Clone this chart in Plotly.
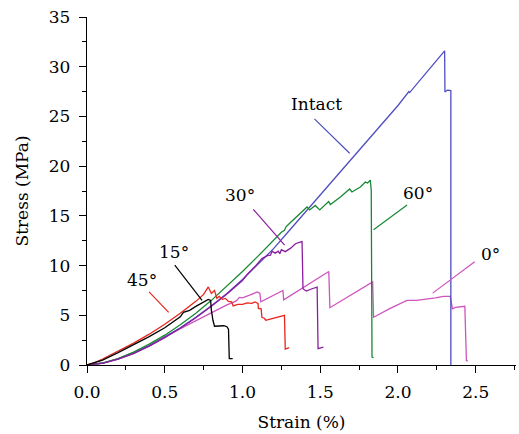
import plotly.graph_objects as go

# Stress-strain curves (strain in %, stress in MPa)
intact_strain = [0, 0.1, 0.2, 0.3, 0.4, 0.5, 0.6, 0.7, 0.8, 0.9, 1.0, 1.1, 1.2, 1.3, 1.4, 1.6,
                 1.8, 2.0, 2.07, 2.075, 2.3, 2.302, 2.318, 2.34, 2.34]
intact_stress = [0, 0.18, 0.6, 1.2, 1.95, 2.8, 3.75, 4.8, 5.95, 7.2, 8.6, 10.1, 11.7, 13.5, 15.3, 18.9,
                 22.5, 26.1, 27.5, 27.4, 31.6, 27.45, 27.65, 27.6, 0]

s60_strain = [0, 0.1, 0.2, 0.3, 0.4, 0.5, 0.6, 0.7, 0.8, 0.9, 1.0, 1.1, 1.2, 1.25, 1.27, 1.28,
              1.3, 1.35, 1.39, 1.415, 1.432, 1.468, 1.497, 1.554, 1.565, 1.63, 1.689, 1.704,
              1.758, 1.79, 1.805, 1.822, 1.828, 1.833, 1.843]
s60_stress = [0, 0.2, 0.65, 1.3, 2.1, 3.0, 4.05, 5.2, 6.5, 7.9, 9.4, 10.95, 12.6, 13.35, 13.55, 13.9,
              14.2, 14.9, 15.5, 15.9, 15.6, 16.05, 15.6, 16.45, 16.15, 16.9, 17.7, 17.4,
              17.9, 18.4, 18.3, 18.6, 17.6, 0.8, 0.75]

s30_strain = [0, 0.1, 0.2, 0.3, 0.4, 0.5, 0.6, 0.7, 0.8, 0.9, 1.0, 1.03, 1.08, 1.125, 1.16, 1.18,
              1.19, 1.21, 1.23, 1.24, 1.25, 1.275, 1.31, 1.34, 1.38, 1.383, 1.389, 1.41, 1.447,
              1.48, 1.486, 1.52]
s30_stress = [0, 0.17, 0.58, 1.15, 1.9, 2.75, 3.7, 4.75, 5.9, 7.15, 8.5, 9.1, 9.9, 10.7, 11.0, 11.05,
              11.45, 11.25, 11.45, 11.2, 11.6, 11.4, 11.75, 12.2, 12.4, 12.47, 7.67, 7.43, 7.67,
              7.84, 1.64, 1.8]

s45_strain = [0, 0.05, 0.1, 0.2, 0.3, 0.4, 0.5, 0.6, 0.65, 0.7, 0.75, 0.78, 0.8, 0.82, 0.835,
              0.85, 0.87, 0.89, 0.91, 0.93, 0.94, 0.97, 1.0, 1.03, 1.06, 1.08, 1.1, 1.102, 1.12,
              1.125, 1.14, 1.15, 1.16, 1.27, 1.275, 1.3]
s45_stress = [0, 0.25, 0.6, 1.4, 2.2, 3.1, 4.1, 5.2, 5.8, 6.4, 7.1, 7.85, 7.2, 7.5, 6.7,
              6.9, 6.6, 6.7, 6.4, 6.35, 5.95, 6.1, 6.1, 6.25, 6.2, 6.35, 6.2, 5.7, 5.65,
              4.8, 4.7, 4.5, 4.55, 5.0, 1.6, 1.75]

s15_strain = [0, 0.1, 0.2, 0.3, 0.4, 0.5, 0.6, 0.62, 0.64, 0.66, 0.7, 0.75, 0.78, 0.795, 0.8,
              0.81, 0.82, 0.88, 0.9, 0.91, 0.915, 0.937]
s15_stress = [0, 0.5, 1.25, 2.05, 2.85, 3.75, 4.85, 5.3, 5.4, 5.5, 5.9, 6.3, 6.6, 6.5, 5.5,
              4.5, 3.9, 3.95, 3.85, 3.6, 0.65, 0.65]

s0_strain = [0, 0.1, 0.2, 0.3, 0.4, 0.5, 0.6, 0.7, 0.8, 0.86, 0.9, 0.94, 0.96, 0.98, 1.0, 1.05,
             1.08, 1.095, 1.112, 1.118, 1.26, 1.265, 1.555, 1.562, 1.837, 1.843, 1.95, 2.058,
             2.12, 2.186, 2.24, 2.293, 2.336, 2.35, 2.37, 2.43, 2.44, 2.45]
s0_stress = [0, 0.2, 0.65, 1.25, 1.9, 2.85, 3.65, 4.45, 5.25, 5.8, 6.05, 6.3, 6.45, 6.8, 6.75, 7.05,
             7.3, 7.35, 7.2, 6.35, 7.5, 6.55, 9.4, 5.76, 8.35, 4.8, 5.7, 6.5,
             6.5, 6.6, 6.75, 6.9, 6.9, 5.66, 5.8, 5.9, 0.45, 0.4]

series = [
    ("0°", s0_strain, s0_stress, "rgb(206,84,190)"),
    ("Intact", intact_strain, intact_stress, "rgb(78,78,192)"),
    ("60°", s60_strain, s60_stress, "rgb(24,136,52)"),
    ("30°", s30_strain, s30_stress, "rgb(140,30,160)"),
    ("45°", s45_strain, s45_stress, "rgb(232,38,28)"),
    ("15°", s15_strain, s15_stress, "rgb(0,0,0)"),
]

# Callout labels: text position, leader line start and end (data units)
label_names = ["Intact", "60°", "30°", "0°", "15°", "45°"]
label_text_xy = [(1.475, 26.3), (2.13, 17.3), (0.985, 17.1), (2.595, 11.2), (0.557, 11.4), (0.354, 8.5)]
leader_from = [(1.453, 24.9), (2.068, 16.2), (1.061, 15.8), (2.503, 10.5), (0.557, 10.2), (0.39, 7.5)]
leader_to = [(1.689, 21.3), (1.843, 13.6), (1.271, 12.05), (2.223, 7.23), (0.74, 6.5), (0.525, 5.3)]

FONT = "DejaVu Serif"
FS = 17
colors = {name: c for name, _, _, c in series}

fig = go.Figure()
for name, xs, ys, c in series:
    fig.add_trace(go.Scatter(x=xs, y=ys, mode="lines", name=name,
                             line=dict(color=c, width=1.3), showlegend=False))

for name, (tx, ty), (x0, y0), (x1, y1) in zip(label_names, label_text_xy, leader_from, leader_to):
    fig.add_annotation(x=x1, y=y1, ax=x0, ay=y0, xref="x", yref="y", axref="x", ayref="y",
                       text="", showarrow=True, arrowhead=0, arrowwidth=1.2,
                       arrowcolor=colors[name], standoff=0, startstandoff=0)
    fig.add_annotation(x=tx, y=ty, xref="x", yref="y", text=name, showarrow=False,
                       font=dict(family=FONT, size=FS, color="black"))

fig.update_layout(
    width=519, height=434,
    margin=dict(l=87, r=3, t=17, b=69),
    paper_bgcolor="white", plot_bgcolor="white",
    font=dict(family=FONT, size=FS, color="black"),
)
fig.update_xaxes(
    range=[0, 2.759], tick0=0, dtick=0.5, tickformat=".1f", ticklabelstandoff=4,
    showline=True, linecolor="black", linewidth=1.3,
    ticks="outside", ticklen=7, tickwidth=1.2, tickcolor="black",
    minor=dict(ticks="outside", ticklen=4, dtick=0.25, tickcolor="black", tickwidth=1.2),
    showgrid=False, zeroline=False,
    title=dict(text="Strain (%)", standoff=15, font=dict(family=FONT, size=FS)),
)
fig.update_yaxes(
    range=[0, 35], tick0=0, dtick=5, ticklabelstandoff=5,
    showline=True, linecolor="black", linewidth=1.3,
    ticks="outside", ticklen=7, tickwidth=1.2, tickcolor="black",
    minor=dict(ticks="outside", ticklen=4, dtick=2.5, tickcolor="black", tickwidth=1.2),
    showgrid=False, zeroline=False,
    title=dict(text="Stress (MPa)", standoff=15, font=dict(family=FONT, size=FS)),
)

fig.write_html("out.html")
